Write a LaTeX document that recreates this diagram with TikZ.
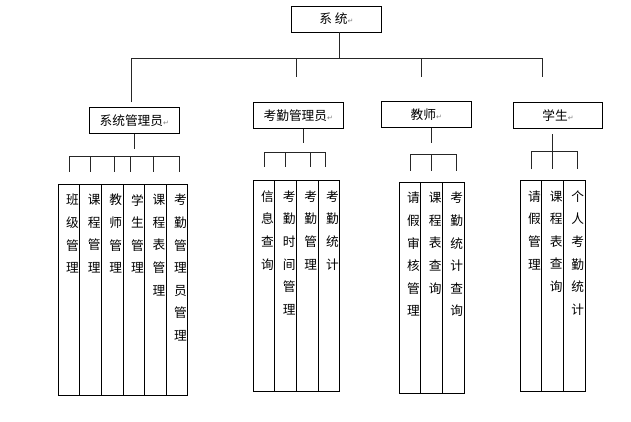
\documentclass[tikz,border=0pt]{standalone}
\usepackage{fontspec}
\newfontfamily\cjk{Noto Sans CJK SC}
\newfontfamily\symf{DejaVu Sans}
\usetikzlibrary{positioning}
\tikzset{
  role/.style={draw,line width=0.9pt,minimum width=90pt,minimum height=26pt,inner sep=0pt,font=\fontsize{12.7}{14}\cjk},
  duty/.style={draw,line width=0.9pt,inner sep=0pt,outer sep=0pt,font=\fontsize{12.7}{22.6}\cjk},
  link/.style={line width=0.9pt,draw=black!85},
}
\newcommand{\ret}{{\symf\fontsize{7}{7}\selectfont\color{gray}↵}}
\newcommand{\duties}[2]{\parbox[t][#1][t]{21.6pt}{\raggedleft\rightskip=1pt\vspace*{10pt}#2}}

\begin{document}
\begin{tikzpicture}[x=1pt,y=-1pt]
    \useasboundingbox (0,0) rectangle (631,421);
    % roles
    \node[role] (sys) at (336.5,19) {系 统\ret};
    \node[role] (adm) at (134.3,120.3) {系统管理员\ret};
    \node[role] (att) at (298.3,115.4) {考勤管理员\ret};
    \node[role] (tea) at (426.3,114.3) {教师\ret};
    \node[role,minimum width=89.4pt] (stu) at (558,115.5) {学生\ret};
    % top tree
    \coordinate (j0) at (339,58.5);
    \coordinate (d1) at (131.7,102);
    \coordinate (d2) at (296.7,77);
    \coordinate (d3) at (421,77);
    \coordinate (d4) at (542,77);
    \draw[link] (sys.south -| j0) -- (j0);
    \draw[link] (d1) |- (j0) -| (d4);
    \draw[link] (d2 |- j0) -- (d2);
    \draw[link] (d3 |- j0) -- (d3);
    % admin duties
    \node[duty,anchor=north west] (a1) at (58.3,184.3) {\duties{210.7pt}{班\\级\\管\\理}};
    \node[duty,right=0pt of a1] (a2) {\duties{210.7pt}{课\\程\\管\\理}};
    \node[duty,right=0pt of a2] (a3) {\duties{210.7pt}{教\\师\\管\\理}};
    \node[duty,right=0pt of a3] (a4) {\duties{210.7pt}{学\\生\\管\\理}};
    \node[duty,right=0pt of a4] (a5) {\duties{210.7pt}{课\\程\\表\\管\\理}};
    \node[duty,right=0pt of a5] (a6) {\duties{210.7pt}{考\\勤\\管\\理\\员\\管\\理}};
    \coordinate (a0) at (134.3,149.3);
    \coordinate (ab) at (134.3,156);
    \foreach \x [count=\i] in {69,90.7,114.7,130,153.3,179}
      \coordinate (ad\i) at (\x,171.7);
    \draw[link] (adm.south -| a0) -- (a0);
    \draw[link] (ad1) |- (ad6 |- ab) -- (ad6);
    \foreach \i in {2,...,5} \draw[link] (ad\i |- ab) -- (ad\i);
    % attendance duties
    \node[duty,anchor=north west] (t1) at (253.3,180.7) {\duties{210.6pt}{信\\息\\查\\询}};
    \node[duty,right=0pt of t1] (t2) {\duties{210.6pt}{考\\勤\\时\\间\\管\\理}};
    \node[duty,right=0pt of t2] (t3) {\duties{210.6pt}{考\\勤\\管\\理}};
    \node[duty,right=0pt of t3] (t4) {\duties{210.6pt}{考\\勤\\统\\计}};
    \coordinate (t0) at (303.3,142.7);
    \coordinate (tb) at (303.3,152);
    \foreach \x [count=\i] in {264.3,285.7,310,325.7}
      \coordinate (td\i) at (\x,166.7);
    \draw[link] (att.south -| t0) -- (t0);
    \draw[link] (td1) |- (td4 |- tb) -- (td4);
    \foreach \i in {2,3} \draw[link] (td\i |- tb) -- (td\i);
    % teacher duties
    \node[duty,anchor=north west] (e1) at (399.3,182.3) {\duties{211pt}{请\\假\\审\\核\\管\\理}};
    \node[duty,right=0pt of e1] (e2) {\duties{211pt}{课\\程\\表\\查\\询}};
    \node[duty,right=0pt of e2] (e3) {\duties{211pt}{考\\勤\\统\\计\\查\\询}};
    \coordinate (e0) at (431.7,142.7);
    \coordinate (eb) at (431.7,154.5);
    \foreach \x [count=\i] in {410,431.7,456.7}
      \coordinate (ed\i) at (\x,170.7);
    \draw[link] (tea.south -| e0) -- (e0);
    \draw[link] (ed1) |- (ed3 |- eb) -- (ed3);
    \draw[link] (ed2 |- eb) -- (ed2);
    % student duties
    \node[duty,anchor=north west] (s1) at (520.3,180.7) {\duties{210.6pt}{请\\假\\管\\理}};
    \node[duty,right=0pt of s1] (s2) {\duties{210.6pt}{课\\程\\表\\查\\询}};
    \node[duty,right=0pt of s2] (s3) {\duties{210.6pt}{个\\人\\考\\勤\\统\\计}};
    \coordinate (s0) at (552.7,134);
    \coordinate (sb) at (552.7,151.5);
    \foreach \x [count=\i] in {531.7,552.7,577.3}
      \coordinate (sd\i) at (\x,169.3);
    \draw[link] (s0) -- (sd2);
    \draw[link] (sd1) |- (sd3 |- sb) -- (sd3);
\end{tikzpicture}
\end{document}
